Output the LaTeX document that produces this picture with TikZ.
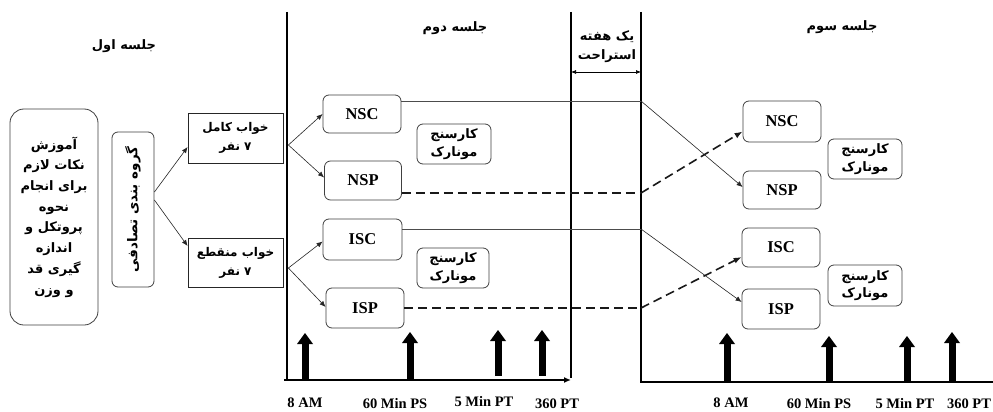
\documentclass[tikz,border=0pt]{standalone}
\usepackage{fontspec}
\setmainfont{Liberation Serif}
\newfontfamily\arabicfont[Script=Arabic]{DejaVu Sans}
\TeXXeTstate=1
\usetikzlibrary{arrows.meta}
\newcommand\prs[1]{{\arabicfont\bfseries\beginR #1\endR}}
\newcommand\arsz{\fontsize{13}{20.7}\selectfont}
\newcommand\thickup[3]{%
  \fill (#1-3.5,#2) rectangle (#1+3.5,#3+10);
  \fill (#1-8,#3+11) -- (#1+8,#3+11) -- (#1,#3) -- cycle;}
\begin{document}
\begin{tikzpicture}[x=1pt,y=-1pt,
  rbox/.style={draw=black!75, line width=0.8pt, rounded corners=6pt, inner sep=0pt, align=center},
  sbox/.style={draw=black!85, line width=0.8pt, inner sep=0pt, align=center},
  lat/.style={font=\bfseries\fontsize{16.5}{18}\selectfont},
  arf/.style={font=\arsz},
  tlab/.style={font=\bfseries\fontsize{14.5}{16}\selectfont},
  arr/.style={-{Latex[length=6pt,width=5pt]}, line width=0.6pt, draw=black!85},
  conn/.style={line width=0.7pt, draw=black!70},
  dsh/.style={dash pattern=on 9pt off 5pt, line width=1.6pt, draw=black!90},
  vline/.style={line width=1.6pt, draw=black}]
\useasboundingbox (0,0) rectangle (993,412);
\fill[white] (0,0) rectangle (993,412);

% frame lines
\coordinate (v1t) at (287,12); \coordinate (v1b) at (287,380);
\coordinate (v2t) at (571,12); \coordinate (v2b) at (571,378);
\coordinate (v3t) at (641,12); \coordinate (v3b) at (641,382);
\coordinate (rend) at (993,382);
\coordinate (ax0) at (284,380); \coordinate (ax1) at (571,380);
\draw[vline] (v1t) -- (v1b);
\draw[vline] (v2t) -- (v2b);
\draw[vline] (v3t) -- (v3b) -- (rend);
\draw[vline, -{Latex[length=7pt,width=6pt]}] (ax0) -- (ax1);

% titles
\node[arf] (t1) at (124,46) {\prs{جلسه اول}};
\node[arf] (t2) at (455,28) {\prs{جلسه دوم}};
\node[arf] (t3) at (842,27) {\prs{جلسه سوم}};
\node[arf, align=center] (rest) at (607,46.5) {\prs{یک هفته}\\[-1pt]\prs{استراحت}};
\draw[{Latex[length=5pt,width=4pt]}-{Latex[length=5pt,width=4pt]}, line width=0.7pt] (v2t|-0,72) -- (v3t|-0,72);

% left column
\node[rbox, rounded corners=14pt, minimum width=88pt, minimum height=216pt, arf] (train) at (54,217)
  {\prs{آموزش}\\\prs{نکات لازم}\\\prs{برای انجام}\\\prs{نحوه}\\\prs{پروتکل و}\\\prs{اندازه}\\\prs{گیری قد}\\\prs{و وزن}};
\node[rbox, minimum width=42pt, minimum height=155pt] (grp) at (133,209.5) {};
\node[rotate=90, font=\fontsize{13.5}{16}\selectfont] (grpt) at (grp.center) {\prs{گروه بندی تصادفی}};
\node[sbox, minimum width=95pt, minimum height=50pt, font=\fontsize{12}{18}\selectfont] (full) at (235.5,138) {\prs{خواب کامل}\\[1pt]\prs{۷ نفر}};
\node[sbox, minimum width=95pt, minimum height=49pt, font=\fontsize{12}{18}\selectfont] (inter) at (235.5,262.5) {\prs{خواب منقطع}\\[1pt]\prs{۷ نفر}};
\draw[arr] ([yshift=17.5pt]grp.east) -- ([yshift=-9pt]full.west);
\draw[arr] ([yshift=9.5pt]grp.east) -- ([yshift=16.5pt]inter.west);

% session 2
\node[rbox, minimum width=78pt, minimum height=38pt, lat] (nsc2) at (362,114) {NSC};
\node[rbox, minimum width=77pt, minimum height=39pt, lat] (nsp2) at (363,180.5) {NSP};
\node[rbox, minimum width=79pt, minimum height=41pt, lat] (isc2) at (362.5,239.5) {ISC};
\node[rbox, minimum width=78pt, minimum height=40pt, lat] (isp2) at (365,308) {ISP};
\node[rbox, minimum width=74pt, minimum height=40pt, arf] (mon2a) at (454,144) {\prs{کارسنج}\\[-3pt]\prs{مونارک}};
\node[rbox, minimum width=72pt, minimum height=40pt, arf] (mon2b) at (453,268) {\prs{کارسنج}\\[-3pt]\prs{مونارک}};
\draw[arr] ([xshift=5pt,yshift=-7pt]full.east) -- (nsc2.west);
\draw[arr] ([xshift=5pt,yshift=-7pt]full.east) -- ([yshift=3pt]nsp2.west);
\draw[arr] ([xshift=5pt,yshift=-5.5pt]inter.east) -- ([yshift=-2pt]isc2.west);
\draw[arr] ([xshift=5pt,yshift=-5.5pt]inter.east) -- ([yshift=1pt]isp2.west);

% session 3
\node[rbox, minimum width=78pt, minimum height=41pt, lat] (nsc3) at (782,121.5) {NSC};
\node[rbox, minimum width=78pt, minimum height=38pt, lat] (nsp3) at (782,190) {NSP};
\node[rbox, minimum width=78pt, minimum height=39pt, lat] (isc3) at (781,247.5) {ISC};
\node[rbox, minimum width=78pt, minimum height=40pt, lat] (isp3) at (781,309) {ISP};
\node[rbox, minimum width=74pt, minimum height=40pt, arf] (mon3a) at (865,159) {\prs{کارسنج}\\[-3pt]\prs{مونارک}};
\node[rbox, minimum width=74pt, minimum height=41pt, arf] (mon3b) at (865,285.5) {\prs{کارسنج}\\[-3pt]\prs{مونارک}};

% crossing connectors
\coordinate (b1) at (641,101);
\coordinate (b2) at (641,193);
\coordinate (b3) at (641,229);
\coordinate (b4) at (641,308);
\draw[conn] ([yshift=13pt]nsc2.east) -- (b1);
\draw[arr] (b1) -- ([yshift=3pt]nsp3.west);
\draw[dsh] ([yshift=-12.5pt]nsp2.east) -- (b2);
\draw[dsh, -{Latex[length=8pt,width=6pt]}] (b2) -- ([yshift=-10pt]nsc3.west);
\draw[conn] ([yshift=10.5pt]isc2.east) -- (b3);
\draw[arr] (b3) -- ([yshift=7pt]isp3.west);
\draw[dsh] (isp2.east) -- (b4);
\draw[dsh, -{Latex[length=8pt,width=6pt]}] (b4) -- ([yshift=-9.5pt]isc3.west);

% time markers
\thickup{305}{380}{333}
\thickup{410}{380}{332}
\thickup{498}{376}{330}
\thickup{542}{376}{330}
\thickup{727}{382}{333}
\thickup{829}{382}{336}
\thickup{907}{382}{336}
\thickup{952}{382}{332}
\node[tlab] (l1) at (305,403) {8 AM};
\node[tlab] (l2) at (395,404) {60 Min PS};
\node[tlab] (l3) at (484,402) {5 Min PT};
\node[tlab] (l4) at (557,404) {360 PT};
\node[tlab] (l5) at (731,403) {8 AM};
\node[tlab] (l6) at (819,404) {60 Min PS};
\node[tlab] (l7) at (905,404) {5 Min PT};
\node[tlab] (l8) at (969,404) {360 PT};
\end{tikzpicture}
\end{document}
